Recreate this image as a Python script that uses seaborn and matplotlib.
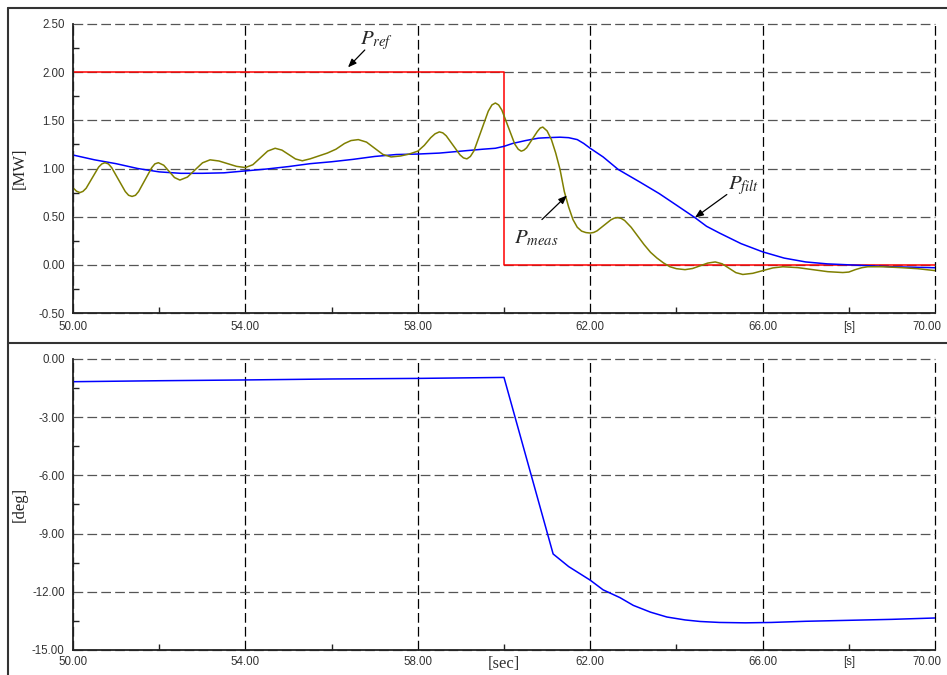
import matplotlib
matplotlib.use("Agg")
import matplotlib.pyplot as plt
import seaborn as sns
import numpy as np
import pandas as pd
from matplotlib.lines import Line2D
from matplotlib.ticker import FixedLocator, FormatStrFormatter
from matplotlib.transforms import ScaledTranslation

# --- data ---
# reference power step
t_ref = [50.0, 60.0, 70.0]
p_ref = [2.0, 0.0, 0.0]

# measured power (oscillating)
t_meas = [50.00, 50.08, 50.16, 50.23, 50.305, 50.45, 50.595, 50.67, 50.74, 50.82, 50.8975, 51.055,
          51.2125, 51.29, 51.37, 51.45, 51.5225, 51.675, 51.8275, 51.90, 51.98, 52.105, 52.23,
          52.355, 52.48, 52.655, 52.83, 53.005, 53.18, 53.385, 53.59, 53.795, 54.00, 54.1725,
          54.345, 54.5175, 54.69, 54.8475, 55.005, 55.1625, 55.32, 55.50, 55.70, 55.90, 56.10,
          56.30, 56.45, 56.62, 56.81, 57.00, 57.19, 57.38, 57.60, 57.80, 58.00, 58.15, 58.30,
          58.40, 58.50, 58.58, 58.66, 58.82, 58.98, 59.06, 59.14, 59.22, 59.305, 59.47, 59.635,
          59.72, 59.80, 59.875, 59.95, 60.10, 60.25, 60.33, 60.40, 60.46, 60.525, 60.65, 60.775,
          60.84, 60.90, 61.00, 61.10, 61.20, 61.30, 61.40, 61.50, 61.60, 61.70, 61.80, 61.90,
          62.00, 62.08, 62.16, 62.32, 62.48, 62.56, 62.64, 62.72, 62.80, 62.95, 63.10, 63.25,
          63.40, 63.55, 63.70, 63.85, 64.00, 64.20, 64.375, 64.55, 64.725, 64.90, 65.06, 65.22,
          65.38, 65.54, 65.7725, 66.005, 66.2375, 66.47, 66.8175, 67.165, 67.5125, 67.86, 68.00,
          68.15, 68.30, 68.44, 68.80, 69.25, 69.60, 70.00]
p_meas = [0.80, 0.765, 0.75, 0.762, 0.795, 0.905, 1.015, 1.048, 1.06, 1.048, 1.009, 0.885,
          0.761, 0.722, 0.71, 0.722, 0.761, 0.885, 1.009, 1.048, 1.06, 1.034, 0.97,
          0.906, 0.88, 0.911, 0.985, 1.059, 1.09, 1.078, 1.05, 1.022, 1.01, 1.039,
          1.11, 1.181, 1.21, 1.191, 1.145, 1.099, 1.08, 1.10, 1.13, 1.16, 1.20,
          1.26, 1.29, 1.30, 1.274, 1.21, 1.146, 1.12, 1.13, 1.15, 1.18, 1.24, 1.32,
          1.36, 1.38, 1.37, 1.339, 1.24, 1.141, 1.11, 1.10, 1.125, 1.185, 1.39, 1.595,
          1.66, 1.68, 1.66, 1.607, 1.43, 1.253, 1.20, 1.18, 1.19, 1.215, 1.30, 1.385,
          1.42, 1.43, 1.39, 1.30, 1.16, 0.99, 0.76, 0.60, 0.47, 0.39, 0.35, 0.335,
          0.33, 0.336, 0.353, 0.41, 0.467, 0.485, 0.49, 0.482, 0.46, 0.39, 0.30, 0.21,
          0.13, 0.07, 0.02, -0.02, -0.04, -0.05, -0.038, -0.01, 0.018, 0.03, 0.011, -0.035,
          -0.081, -0.10, -0.088, -0.06, -0.032, -0.02, -0.029, -0.05, -0.071, -0.08, -0.075,
          -0.05, -0.03, -0.02, -0.02, -0.03, -0.04, -0.06]

# filtered power
t_filt = [50.0, 50.5, 51.0, 51.5, 52.0, 52.5, 53.0, 53.5, 54.0, 54.5, 55.0, 55.5, 56.0, 56.5,
          57.0, 57.5, 58.0, 58.5, 59.0, 59.5, 59.8, 60.0, 60.2, 60.5, 60.8, 61.0, 61.3, 61.5,
          61.7, 61.85, 62.0, 62.3, 62.65, 63.15, 63.6, 64.0, 64.43, 64.7, 65.0, 65.5, 66.0,
          66.5, 67.0, 67.5, 68.0, 68.5, 69.0, 69.5, 70.0]
p_filt = [1.14, 1.09, 1.05, 1.00, 0.965, 0.95, 0.95, 0.955, 0.975, 0.995, 1.02, 1.05, 1.07, 1.095,
          1.125, 1.145, 1.15, 1.16, 1.18, 1.20, 1.21, 1.23, 1.26, 1.29, 1.315, 1.32, 1.325, 1.32,
          1.30, 1.26, 1.21, 1.12, 0.99, 0.86, 0.74, 0.62, 0.49, 0.40, 0.33, 0.22, 0.135,
          0.07, 0.03, 0.01, 0.0, -0.01, -0.02, -0.025, -0.03]

# angle
t_ang = [50.0, 52.0, 54.0, 56.0, 58.0, 60.0, 61.14, 61.5, 62.0, 62.3, 62.69, 63.0, 63.4, 63.78,
         64.2, 64.55, 65.0, 65.6, 66.2, 67.0, 68.0, 69.0, 70.0]
ang = [-1.17, -1.12, -1.08, -1.03, -1.0, -0.95, -10.05, -10.7, -11.4, -11.9, -12.3, -12.7, -13.05,
       -13.3, -13.45, -13.53, -13.58, -13.6, -13.58, -13.52, -13.47, -13.42, -13.35]

x_major = [50, 54, 58, 62, 66, 70]
x_minor = [52, 56, 60, 64, 68]
top_minor_labels = ["", "", "", "", "[s]"]
bot_minor_labels = ["", "", "[sec]", "", "[s]"]

sns.set_style("white")
plt.rcParams["font.family"] = ["Liberation Sans", "DejaVu Sans"]
plt.rcParams["mathtext.fontset"] = "stix"
plt.rcParams["lines.scale_dashes"] = False

fig = plt.figure(figsize=(9.47, 6.75), dpi=100)
W, H = 947, 675
ax1 = fig.add_axes([73 / W, 1 - 313 / H, (935 - 73) / W, (313 - 24) / H])
ax2 = fig.add_axes([73 / W, 1 - 650 / H, (935 - 73) / W, (650 - 359) / H])

dash = (0, (7, 3))


def style_axis(ax, yticks, yminor, minor_labels):
    ax.set_xlim(50, 70)
    ax.set_ylim(yticks[0], yticks[-1])
    ax.set_xticks(x_major)
    ax.set_xticks(x_minor, minor=True)
    ax.set_xticklabels(["%.2f" % v for v in x_major])
    labs = ax.set_xticklabels(minor_labels, minor=True)
    ax.set_yticks(yticks)
    ax.yaxis.set_minor_locator(FixedLocator(yminor))
    ax.yaxis.set_major_formatter(FormatStrFormatter("%.2f"))
    for s in ["top", "right"]:
        ax.spines[s].set_visible(False)
    for s in ["left", "bottom"]:
        ax.spines[s].set_color("#222222")
        ax.spines[s].set_linewidth(1.3)
    ax.tick_params(which="both", direction="in", labelsize=8.3, labelcolor="#333333",
                   color="#222222", bottom=True, left=True)
    ax.tick_params(which="major", length=0, pad=6)
    ax.tick_params(which="minor", length=4, width=1, pad=6)
    ax.xaxis.grid(True, which="major", color="black", linestyle=dash, linewidth=0.9)
    ax.yaxis.grid(True, which="major", color="#555555", linestyle=dash, linewidth=0.9)
    ax.set_axisbelow(True)
    for gl in ax.get_xgridlines() + ax.get_ygridlines():
        gl.set_clip_on(False)
    ax.set_xlabel("")
    return labs


def nudge_last_label(ax):
    # the window edge cuts the last label; pull it in a few pixels so it stays readable
    lab = ax.xaxis.get_major_ticks()[-1].label1
    lab.set_transform(lab.get_transform() + ScaledTranslation(-8 / 100, 0, fig.dpi_scale_trans))


# ---- top panel: power ----
sns.lineplot(x=t_ref, y=p_ref, ax=ax1, color="#ff0000", linewidth=1.1,
             drawstyle="steps-post", estimator=None, sort=False)
sns.lineplot(x=t_filt, y=p_filt, ax=ax1, color="#0000ff", linewidth=1.1,
             estimator=None, sort=False)
sns.lineplot(x=t_meas, y=p_meas, ax=ax1, color="#7f7f00", linewidth=1.1,
             estimator=None, sort=False)
style_axis(ax1, [-0.5, 0.0, 0.5, 1.0, 1.5, 2.0, 2.5],
           [-0.25, 0.25, 0.75, 1.25, 1.75, 2.25], top_minor_labels)
ax1.set_ylabel("[MW]", family=["Liberation Serif", "DejaVu Serif"], fontsize=12)
ax1.yaxis.set_label_coords(-0.053, 0.5)
nudge_last_label(ax1)

arrow = dict(arrowstyle="-|>,head_length=0.5,head_width=0.2", color="black", lw=0.9,
             shrinkA=0, shrinkB=0)
ax1.annotate("", xy=(56.38, 2.05), xytext=(56.77, 2.23), arrowprops=arrow)
ax1.text(57.05, 2.33, r"$P_{ref}$", fontsize=15, ha="center", va="center")
ax1.annotate("", xy=(61.46, 0.72), xytext=(60.88, 0.47), arrowprops=arrow)
ax1.text(60.75, 0.28, r"$P_{meas}$", fontsize=15, ha="center", va="center")
ax1.annotate("", xy=(64.43, 0.49), xytext=(65.17, 0.73), arrowprops=arrow)
ax1.text(65.55, 0.82, r"$P_{filt}$", fontsize=15, ha="center", va="center")

# ---- bottom panel: angle ----
sns.lineplot(x=t_ang, y=ang, ax=ax2, color="#0000ff", linewidth=1.1,
             estimator=None, sort=False)
labs = style_axis(ax2, [-15, -12, -9, -6, -3, 0], [-13.5, -10.5, -7.5, -4.5, -1.5],
                  bot_minor_labels)
labs[2].set_fontfamily(["Liberation Serif", "DejaVu Serif"])
labs[2].set_fontsize(12)
ax2.set_ylabel("[deg]", family=["Liberation Serif", "DejaVu Serif"], fontsize=12)
ax2.yaxis.set_label_coords(-0.053, 0.5)
ax2.tick_params(axis="x", which="both", pad=4)
nudge_last_label(ax2)

# outer frame of the original window
frame = dict(color="#333333", linewidth=1.5, transform=fig.transFigure)
fig.add_artist(Line2D([8 / W, 1.0], [1 - 8 / H, 1 - 8 / H], **frame))
fig.add_artist(Line2D([8 / W, 8 / W], [0.0, 1 - 8 / H], **frame))
fig.add_artist(Line2D([8 / W, 1.0], [1 - 343 / H, 1 - 343 / H], **frame))

fig.savefig("out.png", dpi=100)
